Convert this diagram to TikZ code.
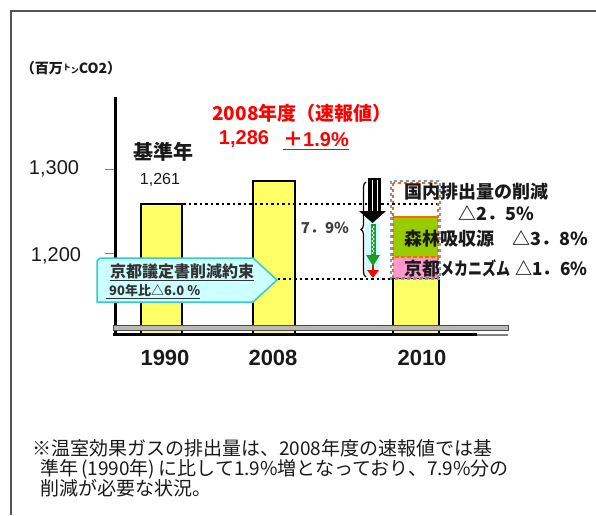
\documentclass[tikz,border=0pt]{standalone}
\usepackage{fontspec}
\setmainfont{Noto Sans CJK JP}
\newfontfamily\arialf{Liberation Sans}
\usetikzlibrary{decorations.pathreplacing,decorations.pathmorphing}
\definecolor{baryellow}{HTML}{FFFF66}
\definecolor{forestgreen}{HTML}{99CC00}
\definecolor{mechpink}{HTML}{FF99CC}
\definecolor{calloutfill}{HTML}{CCFFFF}
\definecolor{calloutline}{HTML}{33CCCC}
\definecolor{dashblue}{HTML}{6699FF}
\definecolor{dashorange}{HTML}{FF6600}
\definecolor{textdark}{HTML}{1A1A1A}
\definecolor{frameg}{HTML}{555555}
\definecolor{arrowgreen}{HTML}{229922}
\newcommand{\fsz}[1]{\fontsize{#1}{#1}\selectfont}
\tikzset{
  bar/.style={fill=baryellow, draw=black, line width=1.5pt},
  lbl/.style={inner sep=0pt, text=textdark},
  redlbl/.style={inner sep=0pt, text=red},
  dotline/.style={line width=2.5pt, dash pattern=on 2.5pt off 3pt},
  substack/.style={draw=dashorange, dashed, line width=1.2pt},
  notetext/.style={inner sep=0pt, text=textdark, font=\fsz{19}, anchor=base west},
}
\begin{document}
\begin{tikzpicture}[x=1pt,y=-1pt]
\useasboundingbox (0,0) rectangle (596,515);
% frame
\draw[frameg, line width=1.5pt] (596,11) -- (11,11) -- (11,515);
% unit
\node[lbl, font=\fsz{14}\bfseries] (unit) at (71,68) {（百万\raisebox{3pt}{\fsz{8}ト}{\fsz{8}ン}CO2）};
% y labels and ticks
\node[lbl, font=\arialf\fsz{20}] (y1300) at (54,169) {1,300};
\node[lbl, font=\arialf\fsz{20}] (y1200) at (56,256) {1,200};
\coordinate (t1a) at (105,169); \coordinate (t1b) at (115,169);
\coordinate (t2a) at (105,253); \coordinate (t2b) at (115,253);
\draw[gray, line width=1pt] (t1a) -- (t1b);
\draw[gray, line width=1pt] (t2a) -- (t2b);
% bars
\draw[bar] (141,204) rectangle (182,334);
\draw[bar] (253,181) rectangle (295,334);
\draw[bar] (393,278) rectangle (439,334);
% y axis
\coordinate (axtop) at (115,97); \coordinate (axbot) at (115,335);
\draw[black, line width=3pt] (axtop) -- (axbot);
% axis break band
\draw[fill=gray!55, draw=gray!60!black, line width=0.8pt] (113,325) rectangle (508,330);
\coordinate (bl) at (113,334.5); \coordinate (bm) at (477,334.5); \coordinate (br) at (508,334.5);
\draw[black, line width=2.5pt] (bl) -- (bm);
\draw[gray, line width=2pt] (bm) -- (br);
% 2010 stack
\fill[white] (393,183) rectangle (438,217);
\fill[forestgreen] (393,217) rectangle (438,257);
\fill[mechpink] (393,257) rectangle (438,278);
\draw[substack] (393,183) rectangle (438,217);
\draw[substack] (393,217) rectangle (438,257);
\draw[substack] (393,257) rectangle (438,278);
\draw[dashblue, dashed, line width=1.8pt] (391,181) rectangle (440,279);
% dotted lines
\coordinate (d1a) at (183,204); \coordinate (d1b) at (437,204);
\coordinate (d2a) at (250,279); \coordinate (d2b) at (391,279);
\draw[dotline] (d1a) -- (d1b);
\draw[dotline] (d2a) -- (d2b);
% brace and arrows
\fill[calloutfill] (365,222) rectangle (379,276);
\draw[decorate, decoration={brace, amplitude=5pt}, line width=1.2pt] (366,277) -- (366,182);
\fill[black] (368,178) rectangle (381,213);
\draw[white, line width=0.6pt] (372,180) -- (372,212);
\draw[white, line width=0.6pt] (377,180) -- (377,212);
\fill[black] (359,211) -- (386,211) -- (372.5,223) -- cycle;
\coordinate (ga) at (373,224); \coordinate (gb) at (373,256);
\draw[arrowgreen, line width=5pt] (ga) -- (gb);
\draw[white, line width=0.6pt, decorate, decoration={zigzag, segment length=4pt, amplitude=1.2pt}] (373,226) -- (373,254);
\fill[arrowgreen] (366,255) -- (380,255) -- (373,266) -- cycle;
\draw[red, line width=2pt] (373,265) -- (373,272);
\fill[red] (367,270) -- (379,270) -- (373,278) -- cycle;
\node[lbl, font=\fsz{15}\bfseries, text=black!75] (pct) at (325,228) {7．9\%};
% callout
\draw[fill=calloutfill, draw=calloutline, line width=1.5pt] (97,261) -- (100,258) -- (253,258) -- (277,280) -- (253,302) -- (97,302) -- cycle;
\node[lbl, font=\fsz{16}\bfseries, text=black!80] (k1) at (182,272) {\underline{京都議定書削減約束}};
\node[lbl, font=\fsz{13}\bfseries, text=black!80, anchor=west] (k2) at (106,292) {\underline{\ 90年比△6.0 ％}};
% labels
\node[lbl, font=\fsz{20}\bfseries] (kijun) at (163,152) {基準年};
\node[lbl, font=\arialf\fsz{16}] (v1261) at (160,180) {1,261};
\node[redlbl, font=\fsz{19}\bfseries] (sokuho) at (302,113) {2008年度（速報値）};
\node[redlbl, font=\arialf\fsz{20}\bfseries] (v1286) at (244,139) {1,286};
\node[redlbl, font=\fsz{20}\bfseries, anchor=west] (inc) at (283,139) {＋{\arialf 1.9\%}};
\draw[red, line width=1.2pt] (inc.south west) ++(0,3) -- ([yshift=-3pt]inc.south east);
\node[lbl, font=\arialf\fsz{22}\bfseries] (yr1) at (165,358) {1990};
\node[lbl, font=\arialf\fsz{22}\bfseries] (yr2) at (273,358) {2008};
\node[lbl, font=\arialf\fsz{22}\bfseries] (yr3) at (422,358) {2010};
\node[lbl, font=\fsz{18}\bfseries, anchor=west] (r1) at (404,192) {国内排出量の削減};
\node[lbl, font=\fsz{18}\bfseries] (r2) at (496,213) {△2．5\%};
\node[lbl, font=\fsz{18}\bfseries, anchor=west] (r3) at (404,239) {森林吸収源　△3．8\%};
\node[lbl, font=\fsz{18}\bfseries, anchor=west] (r4) at (404,268) {京都\scalebox{0.78}[1]{メカニズム}\hspace{5pt}\scalebox{0.95}[1]{△1．6\%}};
% note
\node[notetext] (n1) at (32,455) {※温室効果ガスの排出量は、2008年度の速報値では基};
\node[notetext] (n2) at (40,475) {準年\,(1990年)\,に比して1.9\%増となっており、7.9\%分の};
\node[notetext] (n3) at (40,495) {削減が必要な状況。};
\end{tikzpicture}
\end{document}
